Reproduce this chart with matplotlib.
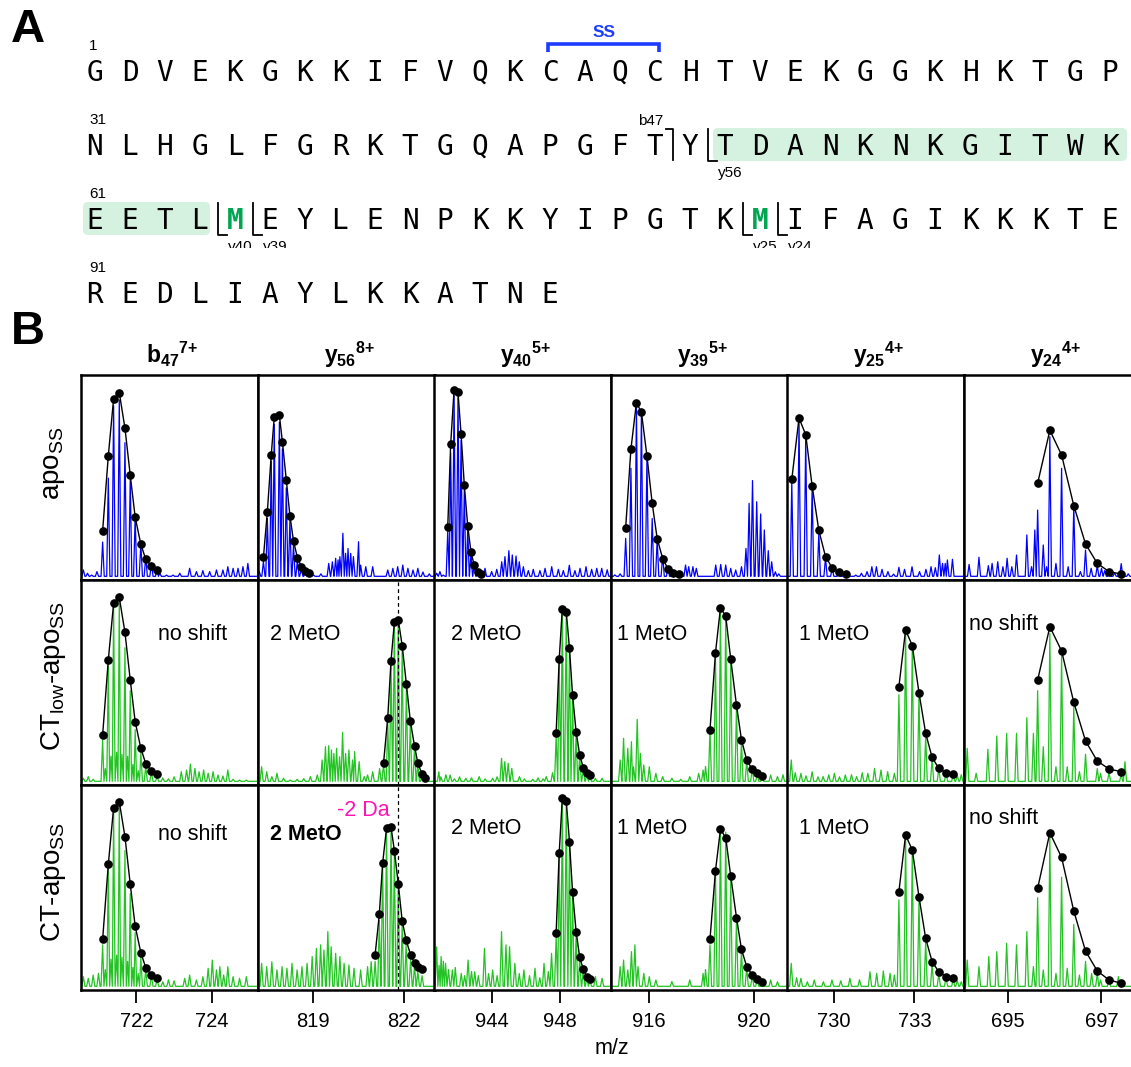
import matplotlib
matplotlib.use("Agg")
import matplotlib.pyplot as plt
from matplotlib.patches import FancyBboxPatch, Rectangle

# ======================= DATA =======================
# ---- Panel A: sequence ----
sequence_rows = ["GDVEKGKKIFVQKCAQCHTVEKGGKHKTGP",
                 "NLHGLFGRKTGQAPGFTYTDANKNKGITWK",
                 "EETLMEYLENPKKYIPGTKMIFAGIKKKTE",
                 "REDLIAYLKKATNE"]
row_numbers = ["1", "31", "61", "91"]
protein_length = 104
ss_pair = [14, 17]
highlight_range = [49, 64]
oxidised_met = [65, 80]
b_frag_names = ["b47"]
b_frag_sizes = [47]
y_frag_names = ["y56", "y40", "y39", "y25", "y24"]
y_frag_sizes = [56, 40, 39, 25, 24]

# ---- Panel B: labels ----
fragment_titles = [r"$\mathbf{b}_{\mathbf{47}}{}^{\mathbf{7{+}}}$",
                   r"$\mathbf{y}_{\mathbf{56}}{}^{\mathbf{8{+}}}$",
                   r"$\mathbf{y}_{\mathbf{40}}{}^{\mathbf{5{+}}}$",
                   r"$\mathbf{y}_{\mathbf{39}}{}^{\mathbf{5{+}}}$",
                   r"$\mathbf{y}_{\mathbf{25}}{}^{\mathbf{4{+}}}$",
                   r"$\mathbf{y}_{\mathbf{24}}{}^{\mathbf{4{+}}}$"]
state_labels = [r"apo$_{\mathrm{SS}}$", r"CT$_{\mathrm{low}}$-apo$_{\mathrm{SS}}$", r"CT-apo$_{\mathrm{SS}}$"]
notes_ctlow = ["no shift", "2 MetO", "2 MetO", "1 MetO", "1 MetO", "no shift"]
notes_ct = ["no shift", "2 MetO", "2 MetO", "1 MetO", "1 MetO", "no shift"]
x_ranges = [(720.53, 725.21), (817.16, 823.04), (940.58, 950.95),
            (914.54, 921.28), (728.23, 734.84), (694.08, 697.85)]
x_ticks = [[722, 724], [819, 822], [944, 948], [916, 920], [730, 733], [695, 697]]
y56_reference_mz = 821.82

# ---- b47 7+ ----
b47_env_mz = [721.11, 721.26, 721.40, 721.55, 721.70, 721.84, 721.97, 722.12, 722.25, 722.40, 722.55]
b47_env_apo = [24.0, 60.6, 88.4, 91.4, 74.1, 51.1, 30.7, 17.4, 10.1, 6.8, 4.9]
b47_env_ctlow = [24.4, 61.0, 88.6, 91.5, 74.5, 51.2, 30.9, 17.9, 10.4, 7.0, 5.4]
b47_env_ct = [24.7, 61.3, 88.9, 91.9, 74.8, 51.6, 31.2, 18.2, 10.9, 7.3, 5.7]
b47_pk_apo = [18.5, 49.7, 85.0, 87.8, 67.0, 48.8, 30.9, 18.0, 11.4, 8.3, 5.9]
b47_pk_ctlow = [22, 58, 87, 90, 67, 46, 27, 16, 9, 6, 4]
b47_pk_ct = [22, 59, 87, 90, 68, 47, 28, 16, 10, 7, 5]
b47_noise_mz_apo = [720.60, 720.71, 720.82, 720.96, 722.62, 722.80, 722.97, 723.15, 723.41, 723.59,
                    723.76, 723.94, 724.12, 724.29, 724.42, 724.56, 724.69, 724.82, 724.95]
b47_noise_apo = [4.9, 3.3, 2.4, 4.1, 3.3, 2.4, 2.4, 3.3, 5.7, 4.1, 4.6, 4.1, 4.9, 4.9, 6.5, 5.7, 5.7, 6.5, 8.1]
b47_noise_mz_ctlow = [720.60, 720.73, 720.86, 721.18, 721.33, 721.48, 721.62, 721.77, 721.91, 722.05,
                      722.70, 722.85, 723.00, 723.19, 723.33, 723.43, 723.55, 723.66, 723.78, 723.90,
                      724.03, 724.16, 724.29, 724.42, 724.56, 724.73, 724.91]
b47_noise_ctlow = [3.3, 4.1, 2.8, 8.0, 14.0, 16.0, 15.0, 14.0, 10.0, 7.0, 3.5, 3.0, 4.0, 6.5, 7.3, 10.2,
                   8.1, 6.5, 7.3, 5.7, 6.5, 4.9, 4.4, 7.3, 2.8, 2.4, 2.4]
b47_noise_mz_ct = [720.60, 720.73, 720.86, 721.00, 721.18, 721.33, 721.48, 721.62, 721.77, 721.91,
                   722.05, 722.70, 722.85, 723.00, 723.28, 723.41, 723.59, 723.76, 723.90, 724.01,
                   724.12, 724.21, 724.31, 724.42, 724.56, 724.73, 724.91]
b47_noise_ct = [6.5, 5.7, 7.3, 8.1, 10.0, 15.0, 17.0, 16.0, 14.0, 11.0, 8.0, 4.0, 5.0, 4.5, 5.7, 7.3,
                4.9, 6.5, 10.6, 14.6, 9.8, 11.4, 7.3, 11.4, 6.5, 5.7, 6.5]

# ---- y56 8+ ----
y56_env_mz_apo = [817.34, 817.47, 817.60, 817.70, 817.87, 817.97, 818.10, 818.22, 818.34, 818.47, 818.60, 818.73, 818.85]
y56_env_apo = [11.1, 33.2, 61.0, 79.4, 80.3, 67.5, 48.8, 31.4, 18.9, 10.9, 6.5, 4.4, 3.3]
y56_pk_apo = [9, 30, 58, 76, 77, 64, 45, 29, 17, 10, 6, 4, 3]
y56_env_mz_ctlow = [821.33, 821.47, 821.58, 821.69, 821.82, 821.95, 822.09, 822.22, 822.36, 822.47, 822.61, 822.72]
y56_env_ctlow = [10.6, 32.8, 60.7, 79.3, 80.5, 68.0, 49.1, 31.2, 19.0, 10.6, 5.4, 3.6]
y56_pk_ctlow = [10, 30, 58, 77, 79, 66, 47, 30, 18, 10, 5, 3]
y56_env_mz_ct = [821.05, 821.19, 821.30, 821.43, 821.58, 821.69, 821.82, 821.95, 822.08, 822.23, 822.36, 822.47, 822.61]
y56_env_ct = [17.1, 36.9, 61.8, 78.9, 79.4, 68.0, 51.7, 33.7, 24.4, 17.1, 13.3, 11.1, 10.2]
y56_pk_ct = [14, 34, 60, 77, 78, 66, 50, 32, 22, 15, 12, 9, 7]
y56_noise_mz_apo = [817.20, 819.00, 819.25, 819.51, 819.63, 819.74, 819.82, 819.88, 819.98, 820.07,
                    820.15, 820.24, 820.33, 820.50, 820.57, 820.74, 820.97, 821.47, 821.64, 821.80,
                    821.97, 822.14, 822.31, 822.47, 822.64, 822.85]
y56_noise_apo = [4.2, 2.5, 3.0, 8.1, 8.9, 10.6, 9.8, 11.4, 22.8, 13.0, 15.4, 13.0, 11.4, 18.7, 7.3,
                 6.5, 6.5, 4.9, 5.7, 6.5, 7.3, 5.7, 4.9, 5.7, 3.9, 3.0]
y56_noise_mz_ctlow = [817.28, 817.45, 817.62, 817.79, 818.01, 818.23, 818.46, 818.68, 818.90, 819.13,
                      819.29, 819.40, 819.51, 819.60, 819.68, 819.77, 819.87, 819.97, 820.07, 820.18,
                      820.30, 820.37, 820.52, 820.69, 820.80, 820.97, 821.20]
y56_noise_ctlow = [8.9, 6.5, 4.1, 5.7, 3.3, 2.4, 2.8, 3.1, 4.1, 4.9, 12.2, 18.7, 19.2, 17.1, 15.4,
                   17.9, 13.8, 25.7, 15.4, 17.1, 12.2, 16.3, 11.4, 4.1, 4.9, 6.5, 8.0]
y56_noise_mz_ct = [817.28, 817.45, 817.62, 817.79, 817.96, 818.12, 818.29, 818.46, 818.62, 818.79,
                   818.96, 819.10, 819.24, 819.35, 819.48, 819.59, 819.74, 819.88, 820.02, 820.18,
                   820.35, 820.57, 820.80, 820.92]
y56_noise_ct = [13.0, 11.4, 13.8, 9.8, 11.4, 10.6, 13.0, 9.8, 11.4, 13.0, 16.3, 20.3, 22.0, 19.5,
                28.5, 21.1, 17.9, 16.3, 13.0, 12.2, 10.6, 9.8, 11.4, 13.8]

# ---- y40 5+ ----
y40_env_mz_apo = [941.41, 941.58, 941.78, 942.01, 942.19, 942.38, 942.58, 942.77, 942.96, 943.16, 943.36]
y40_env_apo = [26.0, 66.2, 92.7, 91.5, 71.1, 46.2, 26.2, 13.7, 7.2, 4.1, 2.9]
y40_pk_apo = [24, 62, 90, 89, 68, 44, 25, 13, 7, 4.5, 3.5]
y40_env_mz_met = [947.76, 947.94, 948.12, 948.35, 948.54, 948.72, 948.93, 949.14, 949.35, 949.56, 949.74]
y40_env_ctlow = [25.5, 61.5, 85.9, 84.6, 66.7, 43.9, 25.9, 14.6, 8.5, 5.7, 4.7]
y40_pk_ctlow = [24, 60, 85, 84, 65, 43, 25, 14, 8, 5, 4]
y40_env_ct = [28.0, 67.0, 93.5, 92.4, 72.4, 47.8, 28.5, 15.9, 10.1, 6.5, 5.2]
y40_pk_ct = [26, 65, 92, 91, 70, 46, 27, 15, 10, 6, 5]
y40_noise_mz_apo = [940.76, 940.95, 941.15, 943.59, 943.98, 944.28, 944.57, 944.76, 944.99, 945.19,
                    945.41, 945.60, 945.84, 946.13, 946.42, 946.81, 947.11, 947.50, 947.89, 948.18,
                    948.53, 948.86, 949.16, 949.51, 949.84, 950.14, 950.43, 950.75]
y40_noise_apo = [3.3, 4.1, 2.4, 5.7, 4.1, 5.2, 8.9, 11.4, 14.3, 12.2, 11.7, 8.9, 6.5, 4.6, 5.2, 4.6,
                 5.7, 6.5, 5.2, 4.6, 7.2, 4.6, 5.7, 6.5, 5.2, 5.7, 5.7, 5.0]
y40_noise_mz_ctlow = [940.89, 941.00, 941.30, 941.55, 941.80, 942.10, 942.47, 942.80, 943.25, 943.60,
                      944.04, 944.30, 944.56, 944.75, 944.95, 945.16, 945.61, 945.90, 946.39, 946.70,
                      947.00, 947.18, 947.55, 950.06, 950.45]
y40_noise_ctlow = [6.5, 4.0, 5.0, 4.9, 3.0, 4.0, 3.3, 3.5, 4.1, 3.0, 3.3, 4.0, 13.0, 11.4, 10.6, 8.1,
                   4.1, 3.0, 2.8, 3.5, 3.0, 4.1, 6.0, 3.3, 3.3]
y40_noise_mz_ct = [940.76, 940.90, 941.02, 941.15, 941.28, 941.45, 941.68, 941.85, 942.20, 942.40,
                   942.60, 942.80, 942.99, 943.20, 943.56, 943.80, 944.04, 944.30, 944.56, 944.82,
                   945.03, 945.34, 945.60, 945.87, 946.20, 946.52, 946.80, 947.05, 947.30, 947.49,
                   950.06, 950.45]
y40_noise_ct = [21.1, 12.0, 16.3, 14.0, 13.0, 10.0, 9.8, 11.0, 8.1, 7.0, 14.6, 9.0, 8.9, 7.0, 20.3,
                8.0, 9.8, 7.0, 28.5, 22.0, 21.1, 13.0, 8.0, 9.8, 7.0, 10.6, 6.0, 13.0, 9.0, 17.9,
                6.5, 5.7]

# ---- y39 5+ ----
y39_env_mz_apo = [915.11, 915.31, 915.52, 915.71, 915.92, 916.12, 916.31, 916.52, 916.72, 916.92, 917.13]
y39_env_apo = [25.5, 63.9, 86.5, 81.8, 60.5, 37.4, 20.2, 10.4, 5.5, 3.6, 2.9]
y39_pk_apo = [20.3, 54.5, 84.5, 82, 60, 30, 20, 12, 6, 4, 3]
y39_env_mz_met = [918.32, 918.53, 918.72, 918.92, 919.11, 919.33, 919.52, 919.72, 919.93, 920.12, 920.31]
y39_env_ctlow = [26.8, 64.5, 86.5, 82.4, 61.5, 38.9, 22.0, 12.2, 7.6, 5.7, 4.4]
y39_pk_ctlow = [27, 62, 85, 84, 60, 38, 21, 12, 8, 5, 4]
y39_env_ct = [24.7, 58.2, 78.4, 74.3, 55.6, 35.3, 19.8, 11.4, 7.3, 5.2, 4.1]
y39_pk_ct = [22, 57, 78, 77, 54, 34, 19, 11, 7, 5, 4]
y39_noise_mz_apo = [914.70, 914.90, 917.39, 917.51, 917.67, 917.80, 918.54, 918.73, 918.92, 919.11,
                    919.30, 919.52, 919.69, 919.81, 919.94, 920.10, 920.25, 920.39, 920.54, 920.67,
                    920.81, 920.94]
y39_noise_apo = [2.5, 3.0, 7.3, 6.5, 6.5, 5.7, 7.3, 7.6, 7.3, 5.7, 4.9, 6.5, 15.4, 37.4, 48.5, 38.2,
                 32.2, 24.4, 14.3, 8.9, 4.0, 3.0]
y39_noise_mz_ctlow = [914.90, 915.03, 915.19, 915.33, 915.41, 915.55, 915.67, 915.80, 916.01, 916.26,
                      916.52, 916.87, 917.21, 917.55, 917.89, 918.06, 918.15, 920.63, 920.89, 921.10]
y39_noise_ctlow = [12.2, 22.8, 17.9, 21.1, 8.9, 32.0, 15.4, 9.8, 8.9, 5.7, 4.1, 3.3, 2.8, 4.1, 5.7,
                   7.3, 9.0, 4.9, 4.1, 5.0]
y39_noise_mz_ct = [914.90, 915.03, 915.19, 915.33, 915.46, 915.58, 915.80, 916.01, 916.26, 916.87,
                   917.55, 918.06, 918.15, 920.63, 920.89]
y39_noise_ct = [11.4, 14.6, 9.8, 18.7, 22.0, 11.4, 8.1, 6.5, 4.9, 4.1, 4.9, 8.1, 10.0, 4.9, 4.0]

# ---- y25 4+ ----
y25_env_mz_apo = [728.42, 728.69, 728.94, 729.18, 729.43, 729.68, 729.93, 730.17, 730.43]
y25_env_apo = [49.1, 79.0, 70.9, 45.9, 24.2, 11.4, 5.9, 3.7, 2.9]
y25_pk_apo = [48, 78, 70, 45, 23, 11, 6, 4, 3]
y25_env_mz_met = [732.42, 732.67, 732.92, 733.17, 733.42, 733.66, 733.91, 734.18, 734.45]
y25_env_ctlow = [48.0, 75.6, 68.0, 45.0, 25.2, 13.5, 8.1, 6.0, 5.4]
y25_pk_ctlow = [44, 74, 67, 44, 24, 13, 8, 6, 5]
y25_env_ct = [48.0, 75.6, 68.3, 45.5, 25.2, 13.8, 8.9, 6.5, 5.7]
y25_pk_ct = [44, 74, 67, 44, 24, 13, 8, 6, 5]
y25_noise_mz_apo = [730.81, 731.02, 731.23, 731.41, 731.58, 731.79, 732.01, 732.22, 732.42, 732.63,
                    732.91, 733.19, 733.43, 733.62, 733.78, 733.93, 734.05, 734.15, 734.23, 734.42]
y25_noise_apo = [2.4, 3.3, 4.1, 6.5, 6.5, 5.2, 4.1, 2.9, 6.2, 5.2, 6.5, 4.1, 5.2, 6.5, 6.0, 12.2,
                 8.1, 8.1, 9.8, 10.1]
y25_noise_mz_ctlow = [728.40, 728.55, 728.76, 728.95, 729.18, 729.40, 729.59, 729.80, 730.01, 730.20,
                      730.42, 730.65, 730.84, 731.05, 731.26, 731.51, 731.75, 732.00, 732.25, 734.60, 734.75]
y25_noise_ctlow = [12.2, 6.0, 5.7, 4.5, 6.5, 4.0, 4.1, 5.0, 5.7, 4.0, 4.9, 5.0, 4.1, 6.0, 5.7, 8.1,
                   7.3, 6.5, 5.7, 4.5, 5.0]
y25_noise_mz_ct = [728.40, 728.60, 728.76, 729.00, 729.26, 729.60, 729.92, 730.25, 730.59, 730.95,
                   731.34, 731.59, 731.84, 732.09, 732.25, 734.60, 734.75]
y25_noise_ct = [13.0, 6.0, 5.7, 4.0, 4.9, 4.0, 4.9, 4.5, 5.7, 5.0, 8.9, 8.1, 9.3, 8.1, 7.3, 4.5, 4.0]

# ---- y24 4+ ----
y24_env_mz = [695.64, 695.90, 696.15, 696.41, 696.66, 696.91, 697.16, 697.42]
y24_env_apo = [47.2, 73.0, 61.0, 36.3, 17.6, 8.1, 4.1, 2.9]
y24_pk_apo = [34.1, 69.9, 54.5, 36.0, 14.6, 7.0, 5.0, 8.0]
y24_env_ctlow = [51.2, 77.2, 65.4, 40.3, 21.5, 11.7, 7.8, 6.5]
y24_pk_ctlow = [46, 74, 63, 38, 15, 8, 6, 5]
y24_env_ct = [49.6, 76.7, 64.7, 38.5, 19.0, 9.3, 4.9, 3.3]
y24_pk_ct = [45, 74, 55, 32, 14, 8, 5, 4]
y24_noise_mz_apo = [694.18, 694.39, 694.59, 694.67, 694.79, 694.90, 694.99, 695.09, 695.19, 695.41,
                    695.51, 695.58, 695.76, 695.83, 696.03, 696.29, 696.55, 696.78, 697.00, 697.07,
                    697.28, 697.57]
y24_noise_apo = [7.6, 11.1, 7.0, 8.1, 8.9, 6.5, 10.6, 6.5, 12.2, 22.0, 6.5, 24.4, 17.1, 6.5, 8.1,
                 6.5, 4.1, 5.7, 5.7, 4.6, 3.5, 3.0]
y24_noise_mz_ctlow = [694.14, 694.33, 694.58, 694.77, 694.98, 695.19, 695.41, 695.55, 695.76, 696.03,
                      696.27, 696.53, 696.98, 697.50]
y24_noise_ctlow = [17.9, 5.7, 17.4, 23.9, 25.2, 25.2, 32.8, 25.2, 18.7, 8.9, 8.9, 6.5, 5.7, 11.4]
y24_noise_mz_ct = [694.14, 694.39, 694.60, 694.77, 694.98, 695.19, 695.41, 695.55, 695.76, 696.03,
                   696.27, 696.53, 696.79, 696.98, 697.36]
y24_noise_ct = [14.6, 11.4, 16.3, 18.7, 22.8, 22.0, 28.5, 11.4, 9.8, 8.1, 10.6, 7.3, 8.1, 4.9, 6.5]

# =================== ASSEMBLY ===================
env_mz = [[b47_env_mz, b47_env_mz, b47_env_mz],
          [y56_env_mz_apo, y56_env_mz_ctlow, y56_env_mz_ct],
          [y40_env_mz_apo, y40_env_mz_met, y40_env_mz_met],
          [y39_env_mz_apo, y39_env_mz_met, y39_env_mz_met],
          [y25_env_mz_apo, y25_env_mz_met, y25_env_mz_met],
          [y24_env_mz, y24_env_mz, y24_env_mz]]
env_int = [[b47_env_apo, b47_env_ctlow, b47_env_ct],
           [y56_env_apo, y56_env_ctlow, y56_env_ct],
           [y40_env_apo, y40_env_ctlow, y40_env_ct],
           [y39_env_apo, y39_env_ctlow, y39_env_ct],
           [y25_env_apo, y25_env_ctlow, y25_env_ct],
           [y24_env_apo, y24_env_ctlow, y24_env_ct]]
pk_int = [[b47_pk_apo, b47_pk_ctlow, b47_pk_ct],
          [y56_pk_apo, y56_pk_ctlow, y56_pk_ct],
          [y40_pk_apo, y40_pk_ctlow, y40_pk_ct],
          [y39_pk_apo, y39_pk_ctlow, y39_pk_ct],
          [y25_pk_apo, y25_pk_ctlow, y25_pk_ct],
          [y24_pk_apo, y24_pk_ctlow, y24_pk_ct]]
noise_mz = [[b47_noise_mz_apo, b47_noise_mz_ctlow, b47_noise_mz_ct],
            [y56_noise_mz_apo, y56_noise_mz_ctlow, y56_noise_mz_ct],
            [y40_noise_mz_apo, y40_noise_mz_ctlow, y40_noise_mz_ct],
            [y39_noise_mz_apo, y39_noise_mz_ctlow, y39_noise_mz_ct],
            [y25_noise_mz_apo, y25_noise_mz_ctlow, y25_noise_mz_ct],
            [y24_noise_mz_apo, y24_noise_mz_ctlow, y24_noise_mz_ct]]
noise_int = [[b47_noise_apo, b47_noise_ctlow, b47_noise_ct],
             [y56_noise_apo, y56_noise_ctlow, y56_noise_ct],
             [y40_noise_apo, y40_noise_ctlow, y40_noise_ct],
             [y39_noise_apo, y39_noise_ctlow, y39_noise_ct],
             [y25_noise_apo, y25_noise_ctlow, y25_noise_ct],
             [y24_noise_apo, y24_noise_ctlow, y24_noise_ct]]

# =================== STYLE / LAYOUT ===================
W, H = 1131, 1067
plt.rcParams['font.family'] = ['Liberation Sans', 'DejaVu Sans']
plt.rcParams['mathtext.fontset'] = 'custom'
plt.rcParams['mathtext.rm'] = 'Liberation Sans'
plt.rcParams['mathtext.bf'] = 'Liberation Sans:bold'
plt.rcParams['mathtext.it'] = 'Liberation Sans:italic'
plt.rcParams['mathtext.sf'] = 'Liberation Sans'

BLUE = '#0000ff'
GREEN = '#22c322'
MONO = 'DejaVu Sans Mono'

fig = plt.figure(figsize=(W / 100, H / 100), dpi=100)

col_left = [80.7, 258.0, 433.6, 610.7, 786.7, 964.4]
col_w = 177.0
row_top = [375.0, 580.0, 785.0]
row_h = 205.0
BASE = 1.8


def profile(mzs, ints, hw, lo, hi):
    pk = sorted(zip(mzs, ints))
    xs, ys = [lo], [BASE]
    for i, (m, h) in enumerate(pk):
        a, b = m - hw, m + hw
        if i > 0:
            a = max(a, (pk[i - 1][0] + m) / 2)
        if i < len(pk) - 1:
            b = min(b, (m + pk[i + 1][0]) / 2)
        xs += [a, m, b]
        ys += [BASE, h, BASE]
    xs.append(hi)
    ys.append(BASE)
    return xs, ys


for c in range(6):
    for r in range(3):
        l = col_left[c]
        t = row_top[r]
        ax = fig.add_axes([l / W, 1 - (t + row_h) / H, col_w / W, row_h / H])
        lo, hi = x_ranges[c]
        hw = 1.6 * (hi - lo) / col_w
        xs, ys = profile(list(env_mz[c][r]) + list(noise_mz[c][r]),
                         list(pk_int[c][r]) + list(noise_int[c][r]), hw, lo, hi)
        ax.plot(xs, ys, color=BLUE if r == 0 else GREEN, lw=0.9, zorder=2)
        ax.plot(env_mz[c][r], env_int[c][r], '-o', color='black', lw=1.0, ms=5.2, zorder=3)
        if c == 1 and r > 0:
            ax.axvline(y56_reference_mz, color='black', lw=0.9, ls=(0, (3, 2.5)), zorder=4)
        ax.set_xlim(lo, hi)
        ax.set_ylim(0, 100)
        ax.set_yticks([])
        for sp in ax.spines.values():
            sp.set_linewidth(1.8)
            sp.set_color('black')
        if r == 2:
            ax.set_xticks(x_ticks[c])
            ax.tick_params(axis='x', direction='out', length=9.5, width=1.3, pad=6, labelsize=14.5)
        else:
            ax.set_xticks([])

# overlay in pixel coordinates
ov = fig.add_axes([0, 0, 1, 1])
ov.set_xlim(0, W)
ov.set_ylim(H, 0)
ov.axis('off')

# ---------- Panel A ----------
ov.text(28, 30, "A", fontsize=34, fontweight='bold', ha='center', va='center')
ov.text(28, 332, "B", fontsize=34, fontweight='bold', ha='center', va='center')

X0, PITCH = 95.0, 35.0
BASES = [81.0, 155.0, 229.0, 303.0]


def res_xy(n):
    r = (n - 1) // 30
    i = (n - 1) % 30
    return X0 + i * PITCH, BASES[r], r, i


# highlight boxes
h0, h1 = highlight_range
n = h0
while n <= h1:
    x, yb, r, i = res_xy(n)
    end = min(h1, (r + 1) * 30)
    x_end, _, _, i_end = res_xy(end)
    right = x_end + (17 if i_end == 29 else 10)
    box = FancyBboxPatch((x - 12, yb - 27), right - (x - 12), 33,
                         boxstyle="round,pad=0,rounding_size=5",
                         facecolor='#d5f1e0', edgecolor='none', zorder=0)
    ov.add_patch(box)
    n = end + 1

for r, row in enumerate(sequence_rows):
    ov.text(X0 - 6, BASES[r] - 31, row_numbers[r], fontsize=11, ha='left', va='baseline')
    for i, ch in enumerate(row):
        resnum = r * 30 + i + 1
        if resnum in oxidised_met:
            ov.text(X0 + i * PITCH, BASES[r], ch, fontsize=20, family=MONO, ha='center',
                    va='baseline', color='#00a651', fontweight='bold', zorder=2)
        else:
            ov.text(X0 + i * PITCH, BASES[r], ch, fontsize=20, family=MONO, ha='center',
                    va='baseline', color='black', zorder=2)

# disulfide bracket
xa, ya, _, _ = res_xy(ss_pair[0])
xb, _, _, _ = res_xy(ss_pair[1])
ov.plot([xa - 2, xa - 2, xb + 4, xb + 4], [ya - 29, ya - 37, ya - 37, ya - 29],
        color='#1d3cff', lw=2.6, solid_capstyle='butt', solid_joinstyle='miter')
ov.text((xa + xb) / 2 + 2, ya - 44, "SS", fontsize=12.5, fontweight='bold', color='#1d3cff',
        ha='center', va='baseline')

# b-ion cleavage markers
for name, size in zip(b_frag_names, b_frag_sizes):
    x, yb, r, i = res_xy(size)
    xc = x + PITCH / 2
    ov.plot([xc - 7, xc, xc], [yb - 26, yb - 26, yb + 5], color='black', lw=1.3)
    ov.text(xc - 22, yb - 30, name, fontsize=11, ha='center', va='baseline')

# y-ion cleavage markers
for name, size in zip(y_frag_names, y_frag_sizes):
    x, yb, r, i = res_xy(protein_length - size + 1)
    xc = x - PITCH / 2
    ov.plot([xc, xc, xc + 9], [yb - 26, yb + 6, yb + 6], color='black', lw=1.3)
    ov.text(xc + 10, yb + 22, name, fontsize=11, ha='left', va='baseline', zorder=1)
    if r == 2:
        ov.add_patch(Rectangle((xc + 5, 247.5), 40, 16, facecolor='white', edgecolor='none', zorder=1.5))

# ---------- Panel B labels ----------
for c in range(6):
    ov.text(col_left[c] + col_w / 2 + 3, 363, fragment_titles[c], fontsize=16.5,
            ha='center', va='baseline')

label_y = [463, 676, 882]
for r in range(3):
    ov.text(54, label_y[r], state_labels[r], fontsize=20, rotation=90, ha='center', va='center')

note_x = [158, 270, 451, 617, 799, 969]
for c in range(6):
    ov.text(note_x[c], 625 if c == 5 else 634, notes_ctlow[c], fontsize=15.5, ha='left', va='center')
    ov.text(note_x[c], [834, 834, 829, 829, 829, 818][c], notes_ct[c], fontsize=15.5, ha='left',
            va='center', fontweight='bold' if c == 1 else 'normal')
ov.text(363, 810, "-2 Da", fontsize=15.5, color='#ff14b4', ha='center', va='center')
ov.text(612, 1048, "m/z", fontsize=15.5, ha='center', va='center')

fig.savefig("out.png", dpi=100)
